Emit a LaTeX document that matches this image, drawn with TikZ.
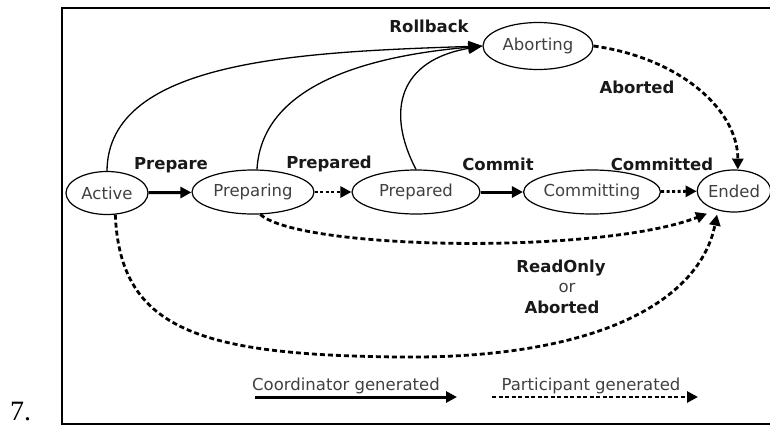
\documentclass[tikz,border=0pt]{standalone}
\usepackage{fontspec}
\setmainfont{DejaVu Sans}
\newfontfamily\numfont{Liberation Serif}
\usetikzlibrary{shapes.geometric,arrows.meta}

\tikzset{
  state/.style={ellipse, draw, line width=1.2pt, inner sep=0pt,
                text=black!75, font=\fontsize{16.5}{19}\selectfont},
  lbl/.style={font=\bfseries\fontsize{16.5}{19}\selectfont, anchor=base,
              inner sep=0pt, text=black!90},
  plain/.style={font=\fontsize{16.5}{19}\selectfont, anchor=base,
                inner sep=0pt, text=black!75},
  coordarrow/.style={line width=3pt, -{Triangle[length=11pt,width=11pt]}},
  partarrow/.style={line width=2.8pt, dash pattern=on 5pt off 3pt,
                    -{Triangle[length=11pt,width=11pt]}},
  shortpart/.style={partarrow, dash pattern=on 3pt off 2.5pt},
  rollarrow/.style={line width=1.3pt, -{Triangle[length=14pt,width=11pt]}},
}

\begin{document}
\begin{tikzpicture}[x=1pt,y=-1pt]
  \useasboundingbox (0,0) rectangle (770,426);

  % outer frame
  \draw[line width=2pt] (62,8) rectangle (774,424);
  \node[font=\numfont\fontsize{28}{30}\selectfont, anchor=base west, inner sep=0pt]
    (num) at (10,420) {7.};

  % states
  \node[state, minimum width=82pt,  minimum height=43pt] (act)  at (107,193) {Active};
  \node[state, minimum width=122pt, minimum height=44pt] (prep) at (253,192) {Preparing};
  \node[state, minimum width=128pt, minimum height=44pt] (pd)   at (416,192) {Prepared};
  \node[state, minimum width=131pt, minimum height=44pt] (com)  at (592,192) {Committing};
  \node[state, minimum width=68pt,  minimum height=42pt] (end)  at (734,191) {Ended};
  \node[state, minimum width=110pt, minimum height=47pt] (ab)   at (538,46)  {Aborting};

  % main line of transitions
  \draw[coordarrow] (act) -- (prep);
  \draw[shortpart]  (prep) -- (pd);
  \draw[coordarrow] (pd) -- (com);
  \draw[shortpart]  (com) -- (end);

  % rollback transitions
  \draw[rollarrow] (act.north) .. controls (108,60) and (300,52) .. (ab.west);
  \draw[rollarrow] (prep.80) .. controls (262,80) and (380,55) .. (ab.west);
  \draw[rollarrow] (pd.north) .. controls (385,110) and (400,60) .. (ab.west);

  % aborting finishes
  \draw[partarrow] (ab.east) .. controls (680,58) and (738,110) .. (end.80);

  % read-only or aborted
  \draw[partarrow] (prep.-72) .. controls (300,250) and (600,255)
    .. ([xshift=-27pt,yshift=-1pt]end.south);
  \draw[partarrow] (act.-69) .. controls (120,330) and (200,355) .. (400,357)
    .. controls (600,359) and (700,300) .. ([xshift=-17pt,yshift=-2pt]end.south);

  % labels
  \node[lbl] (lprepare)   at (171,169) {Prepare};
  \node[lbl] (lprepared)  at (329,168) {Prepared};
  \node[lbl] (lcommit)    at (498,170) {Commit};
  \node[lbl] (lcommitted) at (662,170) {Committed};
  \node[lbl] (lrollback)  at (429,32)  {Rollback};
  \node[lbl] (laborted)   at (637,93)  {Aborted};
  \node[lbl] (lreadonly)  at (561,272) {ReadOnly};
  \node[plain] (lor)      at (567,292) {or};
  \node[lbl] (laborted2)  at (562,313) {Aborted};

  % legend
  \node[plain] (lcoord) at (346,390) {Coordinator generated};
  \node[plain] (lpart)  at (591,390) {Participant generated};
  \coordinate (c1) at (255,397);
  \coordinate (c2) at (457,397);
  \coordinate (p1) at (492,397);
  \coordinate (p2) at (698,397);
  \draw[coordarrow] (c1) -- (c2);
  \draw[partarrow, dash pattern=on 4pt off 2.5pt] (p1) -- (p2);
\end{tikzpicture}
\end{document}
